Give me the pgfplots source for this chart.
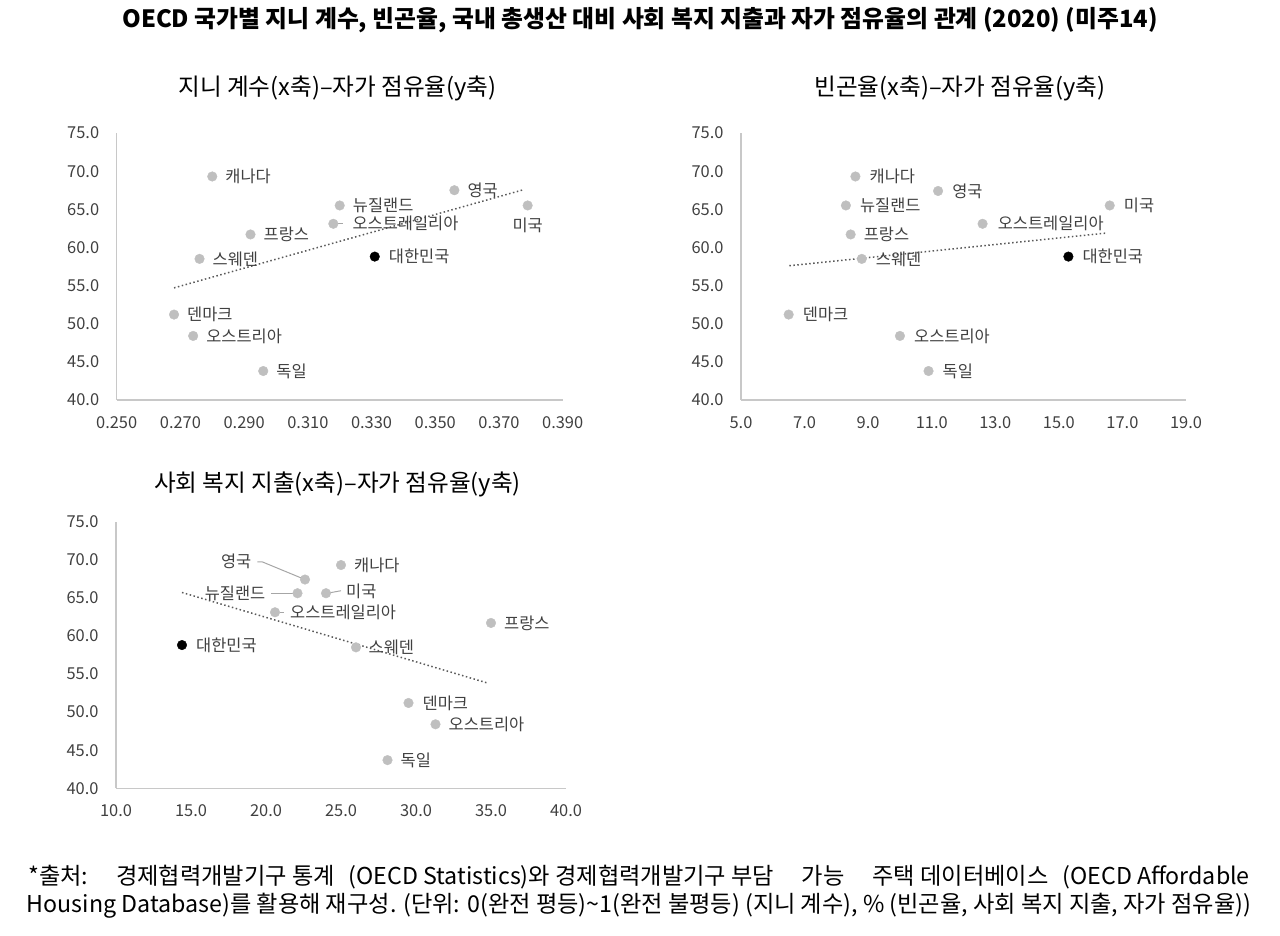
\documentclass[border=0pt]{standalone}
\usepackage{fontspec}
\setmainfont{Noto Sans CJK KR}
\usepackage{pgfplots}
\pgfplotsset{compat=1.18}
\usepackage{pgfplotstable}

\definecolor{ptgray}{HTML}{BFBFBF}
\definecolor{axgray}{HTML}{C8C8C8}
\definecolor{trendgray}{HTML}{595959}
\definecolor{txtgray}{HTML}{404040}
\definecolor{leadgray}{HTML}{A6A6A6}

\tikzset{leader/.style={leadgray, line width=1bp}}
\pgfplotsset{
  scat/.style={
    scale only axis, clip=false,
    axis lines=left, axis line style={-, draw=axgray, line width=1.3bp},
    major tick length=0pt,
    ymin=40, ymax=75, ytick={40,45,...,75},
    /pgf/number format/assume math mode=true,
    tick label style={font=\fontsize{16.5}{18}\selectfont, text=txtgray},
    yticklabel style={xshift=-14bp, /pgf/number format/.cd, fixed, fixed zerofill, precision=1},
  },
  pts/.style={
    only marks, mark=*, mark size=4.8bp, color=#1,
    nodes near coords, point meta=explicit symbolic,
    visualization depends on={value \thisrow{anc}\as\anc},
    visualization depends on={\thisrow{dx}\as\dx},
    visualization depends on={\thisrow{dy}\as\dy},
    every node near coord/.append style={anchor=\anc, xshift=\dx bp, yshift=\dy bp,
      inner sep=0pt, text=txtgray, font=\fontsize{16.5}{18}\selectfont},
  },
  trend/.style={trendgray, line width=1.5bp, dash pattern=on 1.5bp off 2.5bp},
}

\begin{document}
\begin{tikzpicture}
\useasboundingbox (0,0) rectangle (1280bp,-936bp);

\node[font=\bfseries\fontsize{23.9}{26}\selectfont] at (640bp,-20bp)
  {OECD 국가별 지니 계수, 빈곤율, 국내 총생산 대비 사회 복지 지출과 자가 점유율의 관계 (2020) (미주14)};

\node[font=\fontsize{23.7}{26}\selectfont] at (337.5bp,-88bp) {지니 계수(x축)–자가 점유율(y축)};
\node[font=\fontsize{23.7}{26}\selectfont] at (960bp,-88bp) {빈곤율(x축)–자가 점유율(y축)};
\node[font=\fontsize{23.7}{26}\selectfont] at (337.5bp,-484bp) {사회 복지 지출(x축)–자가 점유율(y축)};

% Gini
\begin{axis}[scat, at={(116.7bp,-400bp)}, anchor=south west,
  width=446bp, height=267bp,
  xmin=0.25, xmax=0.39, xtick={0.25,0.27,0.29,0.31,0.33,0.35,0.37,0.39},
  xticklabel style={yshift=-13bp, /pgf/number format/.cd, fixed, fixed zerofill, precision=3}]
  \addplot[trend] coordinates {(0.268,54.7) (0.378,67.6)};
  \draw[leader] (axis cs:0.318,63.1) ++(5bp,0bp) -- ++(5bp,0bp);
  \addplot[pts=ptgray] table[x=gini, y=own, meta=lab] {
gini  own   dx  dy   anc   lab
0.280 69.3  13  0    west  캐나다
0.356 67.5  13  0    west  영국
0.320 65.5  13  0    west  뉴질랜드
0.379 65.5  0   -12  north 미국
0.318 63.1  19  0    west  오스트레일리아
0.292 61.7  13  0    west  프랑스
0.276 58.5  13  0    west  스웨덴
0.268 51.2  13  0    west  덴마크
0.274 48.4  13  0    west  오스트리아
0.296 43.8  13  0    west  독일
};
  \addplot[pts=black] table[x=gini, y=own, meta=lab] {
gini  own   dx  dy   anc   lab
0.331 58.8  14  0    west  대한민국
};
\end{axis}

% poverty rate
\begin{axis}[scat, at={(741bp,-400bp)}, anchor=south west,
  width=445bp, height=267bp,
  xmin=5, xmax=19, xtick={5,7,...,19},
  xticklabel style={yshift=-13bp, /pgf/number format/.cd, fixed, fixed zerofill, precision=1}]
  \addplot[trend] coordinates {(6.52,57.6) (16.53,61.9)};
  \addplot[pts=ptgray] table[x=pov, y=own, meta=lab] {
pov   own   dx  dy   anc   lab
8.6   69.3  14  0    west  캐나다
11.2  67.4  14  0    west  영국
8.3   65.5  14  0    west  뉴질랜드
16.6  65.5  14  0    west  미국
12.6  63.1  15  0    west  오스트레일리아
8.45  61.7  13  0    west  프랑스
8.8   58.5  14  0    west  스웨덴
6.5   51.2  14  0    west  덴마크
10.0  48.4  14  0    west  오스트리아
10.9  43.8  14  0    west  독일
};
  \addplot[pts=black] table[x=pov, y=own, meta=lab] {
pov   own   dx  dy   anc   lab
15.3  58.8  14  0    west  대한민국
};
\end{axis}

% social spending
\begin{axis}[scat, at={(116bp,-788.3bp)}, anchor=south west,
  width=450bp, height=266.7bp,
  xmin=10, xmax=40, xtick={10,15,...,40},
  xticklabel style={yshift=-13bp, /pgf/number format/.cd, fixed, fixed zerofill, precision=1}]
  \addplot[trend] coordinates {(14.4,65.7) (34.8,53.8)};
  \draw[leader] (axis cs:22.6,67.4) -- ++(-42.6bp,17.6bp) -- ++(-5bp,0bp);
  \draw[leader] (axis cs:22.1,65.6) ++(-4.5bp,0bp) -- ++(-22bp,0bp);
  \draw[leader] (axis cs:24.0,65.6) ++(4bp,0.5bp) -- ++(11bp,2bp);
  \draw[leader] (axis cs:20.6,63.1) ++(4.5bp,0bp) -- ++(4bp,0bp);
  \addplot[pts=ptgray] table[x=soc, y=own, meta=lab] {
soc   own   dx     dy   anc   lab
25.0  69.3  13     0    west  캐나다
22.6  67.4  -53.5  18   east  영국
22.1  65.6  -32    0    east  뉴질랜드
24.0  65.6  20     2    west  미국
20.6  63.1  15     0    west  오스트레일리아
35.0  61.7  13     0    west  프랑스
26.0  58.5  12.5   0    west  스웨덴
29.5  51.2  14     0    west  덴마크
31.3  48.4  13     0    west  오스트리아
28.1  43.7  13     0    west  독일
};
  \addplot[pts=black] table[x=soc, y=own, meta=lab] {
soc   own   dx  dy   anc   lab
14.4  58.8  14  0    west  대한민국
};
\end{axis}

\node[font=\fontsize{23.3}{28}\selectfont, align=center] at (639bp,-892bp)
  {*출처:\hspace{1.2em}경제협력개발기구 통계\hspace{0.6em}(OECD Statistics)와 경제협력개발기구 부담\hspace{1.2em}가능\hspace{1.2em}주택 데이터베이스\hspace{0.6em}(OECD Affordable\\
   Housing Database)를 활용해 재구성. (단위: 0(완전 평등)\textasciitilde1(완전 불평등) (지니 계수), \% (빈곤율, 사회 복지 지출, 자가 점유율))};
\end{tikzpicture}
\end{document}
